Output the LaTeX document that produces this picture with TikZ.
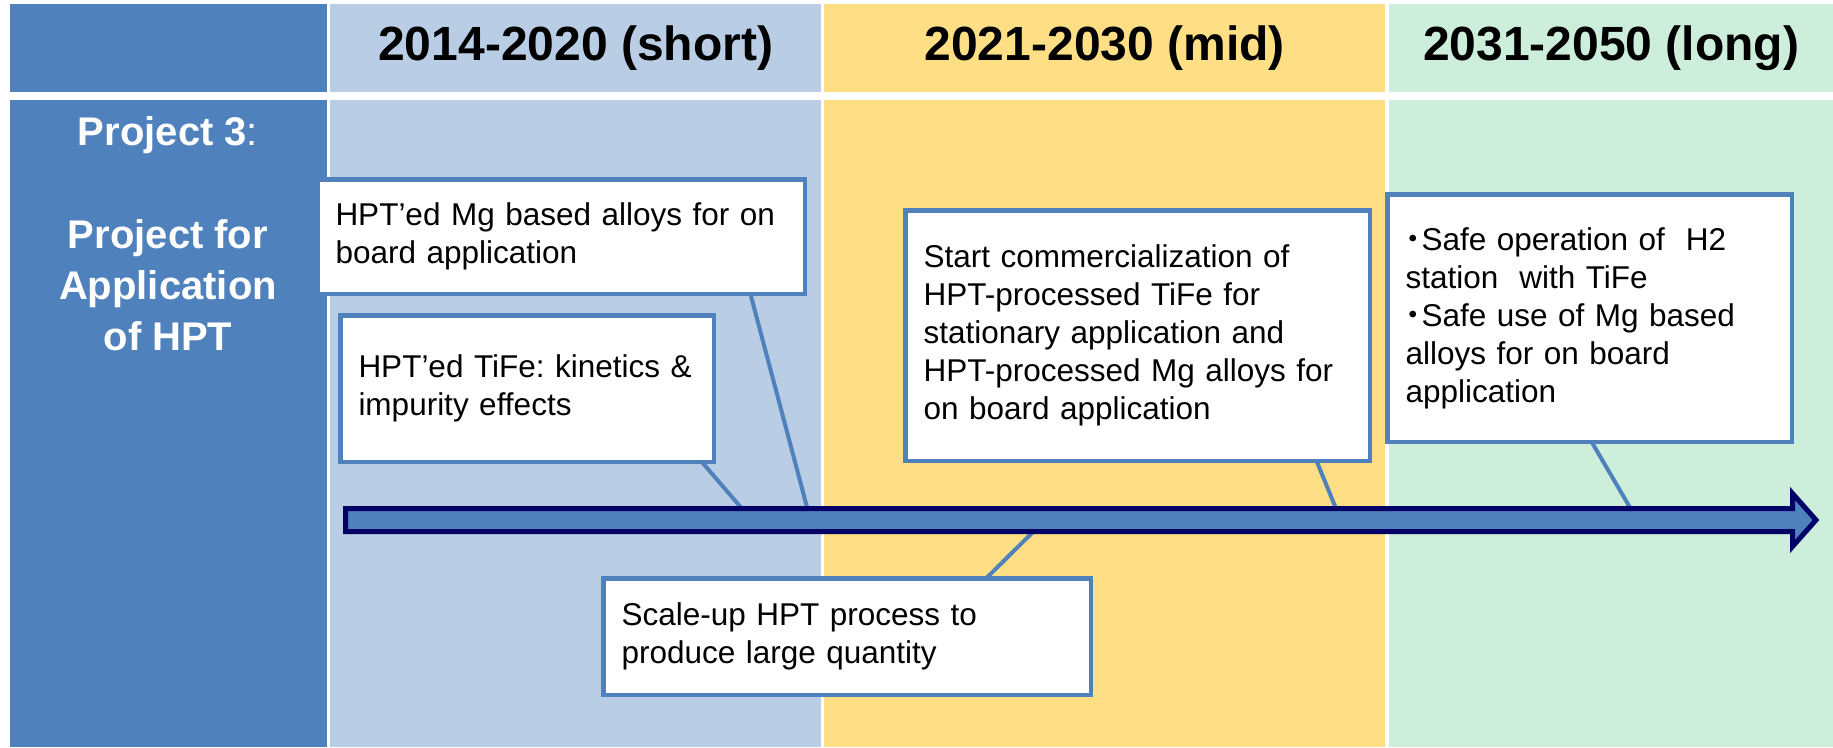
\documentclass[tikz,border=0pt]{standalone}
\usepackage{fontspec}
\setmainfont{Liberation Sans}
\newfontfamily\cjk{Noto Sans CJK JP}

\definecolor{deepblue}{HTML}{4F81BD}
\definecolor{paleblue}{HTML}{B9CDE5}
\definecolor{paleyellow}{HTML}{FFDF85}
\definecolor{palegreen}{HTML}{CDEEDB}
\definecolor{navy}{HTML}{000066}

\begin{document}
\frenchspacing
\begin{tikzpicture}[
    x=1pt, y=-1pt,
    cell/.style={rectangle, inner sep=0pt, anchor=north west},
    period/.style={font=\fontsize{48}{54}\selectfont\bfseries},
    note/.style={rectangle, draw=deepblue, line width=4.5pt, fill=white, inner xsep=18pt, inner ysep=0pt, align=left, anchor=north west, font=\fontsize{31.5}{38}\selectfont},
    leader/.style={draw=deepblue, line width=4pt}
    ]
    \useasboundingbox (0,0) rectangle (1833,747);

    \node (hproj) [cell, fill=deepblue, minimum width=317pt, minimum height=88pt] at (10,4) {};
    \node (hshort) [cell, fill=paleblue, minimum width=491pt, minimum height=88pt, period] at (330,4) {2014-2020 (short)};
    \node (hmid) [cell, fill=paleyellow, minimum width=561pt, minimum height=88pt, period] at (824,4) {2021-2030 (mid)};
    \node (hlong) [cell, fill=palegreen, minimum width=444pt, minimum height=88pt, period] at (1389,4) {2031-2050 (long)};

    \node (bproj) [cell, fill=deepblue, minimum width=317pt, minimum height=647pt] at (10,100) {};
    \node (bshort) [cell, fill=paleblue, minimum width=491pt, minimum height=647pt] at (330,100) {};
    \node (bmid) [cell, fill=paleyellow, minimum width=561pt, minimum height=647pt] at (824,100) {};
    \node (blong) [cell, fill=palegreen, minimum width=444pt, minimum height=647pt] at (1389,100) {};

    \node (proj) [text=white, align=center, font=\fontsize{40}{51}\selectfont\bfseries] at (168,234)
      {Project 3\textmd{:}\\[52pt]Project for\\Application\\of HPT};

    \node (mgbox) [note, text width=451.5pt, minimum height=114.5pt] at (315.25,177.25)
      {HPT’ed Mg based alloys for on\\board application};
    \node (tifebox) [note, text width=337.5pt, minimum height=146.5pt] at (338.25,313.25)
      {HPT’ed TiFe: kinetics \&\\impurity effects};
    \node (commbox) [note, text width=428.5pt, minimum height=250.5pt] at (903.25,208.25)
      {Start commercialization of\\HPT-processed TiFe for\\stationary application and\\HPT-processed Mg alloys for\\on board application};
    \node (safebox) [note, text width=368.5pt, minimum height=247.5pt] at (1385.25,192.25)
      {\makebox[16pt][c]{\smash{\cjk ・}}Safe operation of\ \ H2\\station\ \ with TiFe\\\makebox[16pt][c]{\smash{\cjk ・}}Safe use of Mg based\\alloys for on board\\application};
    \node (scalebox) [note, text width=451.5pt, minimum height=116.5pt] at (601.25,576.25)
      {Scale-up HPT process to\\produce large quantity};

    \coordinate (onmg) at (808,511);
    \coordinate (ontife) at (744,511);
    \coordinate (oncomm) at (1337,511);
    \coordinate (onsafe) at (1632,511);
    \coordinate (onscale) at (1036,529);

    \draw[leader] ([xshift=435pt, yshift=3pt]mgbox.south west) -- (onmg);
    \draw[leader] ([xshift=363pt, yshift=3pt]tifebox.south west) -- (ontife);
    \draw[leader] ([xshift=413pt, yshift=3pt]commbox.south west) -- (oncomm);
    \draw[leader] ([xshift=206pt, yshift=3pt]safebox.south west) -- (onsafe);
    \draw[leader] ([xshift=384pt, yshift=-3pt]scalebox.north west) -- (onscale);

    \draw[fill=deepblue, draw=navy, line width=5pt]
      (345.5,508.5) -- (1792.5,508.5) -- (1792.5,493.5) -- (1816,520)
      -- (1792.5,546.5) -- (1792.5,531.5) -- (345.5,531.5) -- cycle;
\end{tikzpicture}
\end{document}
